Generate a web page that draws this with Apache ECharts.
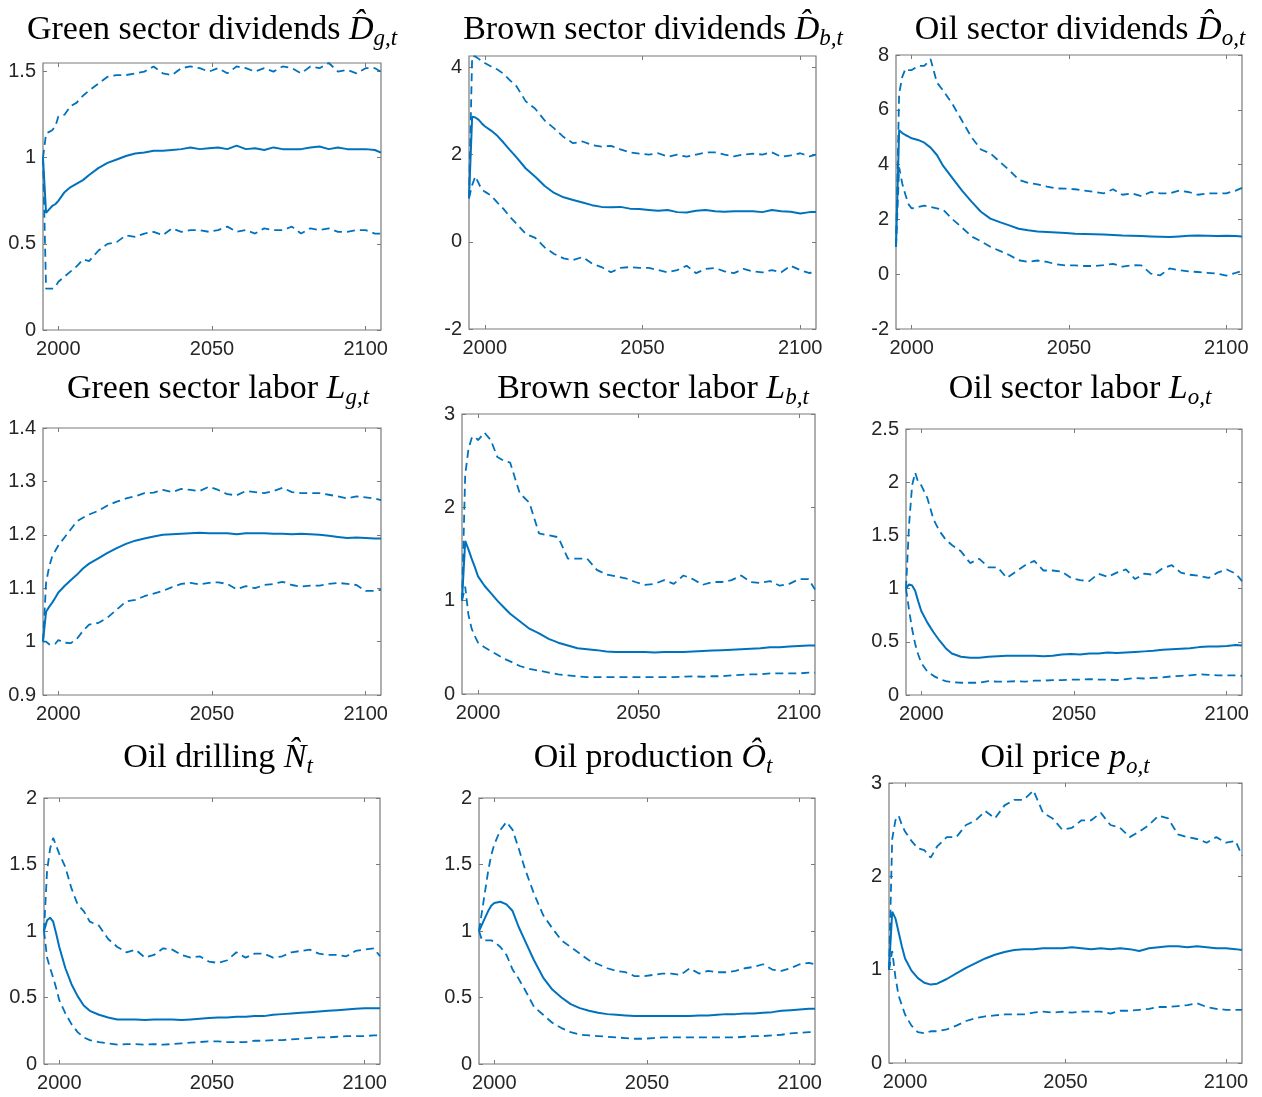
<!DOCTYPE html>
<html><head><meta charset="utf-8">
<script src="https://cdn.jsdelivr.net/npm/echarts@6/dist/echarts.min.js"></script>
<style>html,body{margin:0;padding:0;background:#fff}#c{width:1262px;height:1097px}</style>
</head><body><div id="c"></div>
<script>
// ---------- DATA ----------
const years = [1995,1996,1997,1998,1999,2000,2002,2004,2006,2008,2010,
  2013,2016,2019,2022,2025,2028,2031,2034,2037,2040,
  2043,2046,2049,2052,2055,2058,2061,2064,2067,2070,
  2073,2076,2079,2082,2085,2088,2091,2094,2097,2100,
  2103,2105];
const xTicks = [2000, 2050, 2100];

// Green sector dividends
const greenDivMean = [1.0,0.68,0.70,0.72,0.73,0.75, 0.80,0.83,0.85,0.87,0.90,
  0.94,0.97,0.99,1.01,1.025,1.03,1.04,1.04,1.045,1.05,
  1.06,1.05,1.055,1.06,1.05,1.07,1.05,1.055,1.045,1.06,
  1.05,1.05,1.05,1.06,1.065,1.05,1.06,1.05,1.05,1.05,
  1.045,1.03];
const greenDivUpper = [1.0,1.14,1.15,1.16,1.18,1.24, 1.25,1.30,1.32,1.36,1.39,
  1.43,1.47,1.48,1.48,1.49,1.50,1.53,1.49,1.48,1.52,
  1.53,1.52,1.50,1.52,1.49,1.53,1.52,1.50,1.52,1.50,
  1.53,1.52,1.49,1.53,1.52,1.55,1.50,1.51,1.49,1.52,
  1.52,1.50];
const greenDivLower = [1.0,0.24,0.24,0.24,0.25,0.28, 0.31,0.34,0.37,0.41,0.40,
  0.46,0.50,0.51,0.55,0.54,0.56,0.57,0.55,0.59,0.57,
  0.58,0.58,0.57,0.58,0.60,0.57,0.58,0.56,0.59,0.58,
  0.58,0.60,0.56,0.59,0.58,0.59,0.57,0.57,0.58,0.58,
  0.56,0.56];

// Brown sector dividends
const brownDivMean = [1.0,2.87,2.85,2.80,2.72,2.65, 2.55,2.43,2.27,2.10,1.94,
  1.68,1.49,1.28,1.12,1.02,0.96,0.90,0.84,0.80,0.79,
  0.80,0.76,0.75,0.73,0.71,0.73,0.68,0.67,0.71,0.73,
  0.70,0.69,0.70,0.70,0.70,0.68,0.73,0.70,0.69,0.65,
  0.68,0.68];
const brownDivUpper = [1.0,4.25,4.25,4.20,4.15,4.10, 4.02,3.95,3.85,3.70,3.57,
  3.22,3.05,2.78,2.60,2.40,2.26,2.30,2.22,2.18,2.20,
  2.12,2.05,2.02,2.00,2.03,1.95,2.00,1.95,2.00,2.05,
  2.05,2.00,1.96,2.00,2.02,2.00,2.05,1.95,1.98,2.03,
  1.96,2.00];
const brownDivLower = [1.0,1.30,1.50,1.35,1.20,1.15, 1.06,0.90,0.75,0.57,0.42,
  0.18,0.09,-0.13,-0.28,-0.38,-0.42,-0.35,-0.50,-0.58,-0.70,
  -0.60,-0.58,-0.60,-0.60,-0.65,-0.70,-0.65,-0.55,-0.72,-0.62,
  -0.60,-0.68,-0.72,-0.62,-0.68,-0.70,-0.65,-0.70,-0.55,-0.65,
  -0.72,-0.65];

// Oil sector dividends
const oilDivMean = [1.0,5.25,5.15,5.08,5.02,4.96, 4.90,4.80,4.62,4.35,3.95,
  3.50,3.05,2.65,2.28,2.03,1.90,1.78,1.66,1.60,1.56,
  1.54,1.52,1.50,1.48,1.47,1.46,1.45,1.43,1.41,1.40,
  1.39,1.38,1.37,1.36,1.38,1.40,1.41,1.40,1.39,1.40,
  1.39,1.38];
const oilDivUpper = [1.0,6.6,7.2,7.5,7.45,7.45, 7.6,7.6,7.85,7.0,6.7,
  6.2,5.6,5.0,4.55,4.41,4.1,3.8,3.45,3.33,3.28,
  3.2,3.13,3.12,3.1,3.05,3.0,2.95,3.1,2.9,2.95,
  2.85,3.0,2.95,2.95,3.05,3.0,2.9,2.95,2.95,2.95,
  3.05,3.15];
const oilDivLower = [1.0,3.9,3.3,2.9,2.55,2.4, 2.45,2.5,2.45,2.4,2.35,
  2.0,1.7,1.38,1.2,1.0,0.85,0.7,0.51,0.45,0.5,
  0.45,0.36,0.32,0.32,0.30,0.30,0.33,0.38,0.28,0.33,
  0.32,0.02,-0.04,0.21,0.15,0.10,0.08,0.05,0.02,-0.05,
  0.05,0.12];

// Green sector labor
const greenLabMean = [1.0,1.056,1.065,1.073,1.082,1.092, 1.104,1.115,1.125,1.137,1.146,
  1.156,1.166,1.175,1.183,1.189,1.193,1.197,1.200,1.201,1.202,
  1.203,1.204,1.203,1.203,1.203,1.201,1.203,1.203,1.203,1.202,
  1.202,1.201,1.202,1.201,1.200,1.198,1.196,1.194,1.195,1.194,
  1.193,1.193];
const greenLabUpper = [1.0,1.11,1.14,1.16,1.17,1.18, 1.195,1.21,1.225,1.232,1.238,
  1.245,1.255,1.262,1.268,1.272,1.278,1.279,1.284,1.280,1.286,
  1.284,1.282,1.290,1.284,1.276,1.274,1.282,1.280,1.278,1.282,
  1.288,1.280,1.278,1.278,1.278,1.275,1.272,1.268,1.272,1.270,
  1.268,1.265];
const greenLabLower = [1.0,1.0,0.995,0.994,0.996,1.003, 0.998,0.997,1.005,1.02,1.032,
  1.035,1.045,1.06,1.075,1.078,1.085,1.09,1.095,1.102,1.108,
  1.110,1.107,1.110,1.111,1.108,1.098,1.104,1.100,1.106,1.108,
  1.112,1.106,1.103,1.105,1.105,1.108,1.110,1.108,1.106,1.095,
  1.095,1.097];

// Brown sector labor
const brownLabMean = [1.0,1.64,1.55,1.45,1.36,1.26, 1.16,1.08,1.00,0.93,0.86,
  0.78,0.70,0.65,0.59,0.55,0.52,0.49,0.48,0.47,0.455,
  0.45,0.45,0.45,0.45,0.445,0.45,0.45,0.45,0.455,0.46,
  0.465,0.47,0.475,0.48,0.485,0.49,0.50,0.50,0.51,0.515,
  0.52,0.52];
const brownLabUpper = [1.0,2.35,2.62,2.74,2.76,2.72, 2.80,2.72,2.54,2.50,2.48,
  2.15,2.05,1.72,1.70,1.68,1.45,1.45,1.45,1.33,1.28,
  1.26,1.24,1.20,1.17,1.18,1.22,1.18,1.27,1.23,1.17,
  1.20,1.20,1.22,1.27,1.20,1.19,1.21,1.16,1.18,1.23,
  1.23,1.12];
const brownLabLower = [1.0,1.15,0.85,0.70,0.62,0.55, 0.50,0.46,0.42,0.38,0.35,
  0.30,0.27,0.25,0.23,0.21,0.20,0.19,0.18,0.18,0.18,
  0.18,0.18,0.18,0.18,0.18,0.18,0.18,0.185,0.19,0.185,
  0.19,0.19,0.20,0.205,0.21,0.21,0.22,0.22,0.22,0.22,
  0.23,0.23];

// Oil sector labor
const oilLabMean = [1.0,1.04,1.03,0.98,0.88,0.79, 0.68,0.59,0.51,0.44,0.39,
  0.36,0.35,0.35,0.36,0.365,0.37,0.37,0.37,0.37,0.365,
  0.37,0.38,0.385,0.38,0.39,0.39,0.40,0.395,0.40,0.405,
  0.41,0.415,0.425,0.43,0.435,0.44,0.45,0.455,0.455,0.46,
  0.47,0.465];
const oilLabUpper = [1.0,1.6,1.97,2.09,2.0,1.97, 1.85,1.65,1.54,1.46,1.41,
  1.35,1.24,1.28,1.20,1.20,1.10,1.16,1.22,1.26,1.17,
  1.17,1.16,1.10,1.08,1.07,1.14,1.11,1.15,1.18,1.09,
  1.14,1.13,1.19,1.22,1.15,1.13,1.12,1.10,1.15,1.18,
  1.14,1.07];
const oilLabLower = [1.0,0.8,0.62,0.48,0.38,0.30, 0.22,0.18,0.15,0.13,0.12,
  0.115,0.115,0.115,0.13,0.125,0.125,0.13,0.125,0.135,0.135,
  0.14,0.14,0.145,0.145,0.15,0.145,0.145,0.14,0.15,0.16,
  0.155,0.16,0.165,0.175,0.18,0.185,0.195,0.19,0.185,0.185,
  0.185,0.18];

// Oil drilling
const drillMean = [1.0,1.08,1.10,1.07,0.98,0.88, 0.72,0.60,0.51,0.44,0.40,
  0.37,0.35,0.335,0.335,0.335,0.33,0.335,0.335,0.335,0.33,
  0.335,0.34,0.345,0.35,0.35,0.355,0.355,0.36,0.36,0.37,
  0.375,0.38,0.385,0.39,0.395,0.40,0.405,0.41,0.415,0.42,
  0.42,0.42];
const drillUpper = [1.0,1.45,1.62,1.70,1.64,1.58, 1.48,1.32,1.20,1.15,1.07,
  1.04,0.94,0.88,0.84,0.86,0.80,0.82,0.87,0.86,0.82,
  0.80,0.81,0.77,0.76,0.78,0.84,0.80,0.83,0.83,0.80,
  0.81,0.84,0.85,0.86,0.83,0.82,0.82,0.81,0.85,0.86,
  0.87,0.81];
const drillLower = [1.0,0.80,0.72,0.65,0.57,0.48, 0.38,0.30,0.24,0.20,0.18,
  0.165,0.155,0.145,0.15,0.15,0.145,0.15,0.145,0.15,0.155,
  0.16,0.165,0.17,0.17,0.165,0.165,0.165,0.175,0.175,0.18,
  0.18,0.185,0.19,0.195,0.20,0.20,0.205,0.21,0.21,0.21,
  0.215,0.215];

// Oil production
const prodMean = [1.0,1.05,1.10,1.15,1.19,1.21, 1.22,1.20,1.15,1.03,0.93,
  0.78,0.65,0.56,0.50,0.45,0.42,0.40,0.385,0.375,0.37,
  0.365,0.36,0.36,0.36,0.36,0.36,0.36,0.36,0.365,0.365,
  0.37,0.375,0.375,0.38,0.38,0.385,0.39,0.40,0.405,0.41,
  0.415,0.415];
const prodUpper = [1.0,1.15,1.30,1.45,1.57,1.65, 1.76,1.82,1.76,1.62,1.47,
  1.28,1.12,1.02,0.93,0.88,0.83,0.78,0.75,0.72,0.70,
  0.69,0.66,0.66,0.67,0.68,0.68,0.67,0.72,0.68,0.70,
  0.69,0.69,0.70,0.72,0.73,0.75,0.71,0.70,0.72,0.75,
  0.76,0.75];
const prodLower = [1.0,0.93,0.93,0.93,0.93,0.92, 0.88,0.82,0.71,0.64,0.56,
  0.43,0.37,0.31,0.27,0.24,0.22,0.215,0.21,0.205,0.20,
  0.195,0.19,0.19,0.195,0.20,0.20,0.20,0.20,0.20,0.20,
  0.20,0.20,0.20,0.205,0.21,0.21,0.215,0.22,0.23,0.235,
  0.24,0.24];

// Oil price
const priceMean = [1.0,1.62,1.55,1.40,1.25,1.12, 0.99,0.91,0.86,0.84,0.85,
  0.90,0.96,1.02,1.07,1.12,1.16,1.19,1.21,1.22,1.22,
  1.23,1.23,1.23,1.24,1.23,1.22,1.23,1.22,1.23,1.22,
  1.20,1.23,1.24,1.25,1.25,1.24,1.25,1.24,1.23,1.23,
  1.22,1.21];
const priceUpper = [1.0,2.4,2.60,2.65,2.55,2.48, 2.38,2.30,2.28,2.20,2.32,
  2.42,2.42,2.55,2.60,2.70,2.62,2.76,2.82,2.82,2.92,
  2.68,2.62,2.50,2.52,2.60,2.60,2.68,2.55,2.52,2.42,
  2.48,2.55,2.65,2.62,2.45,2.42,2.40,2.36,2.42,2.36,
  2.38,2.22];
const priceLower = [1.0,1.20,0.92,0.72,0.62,0.52, 0.40,0.33,0.32,0.34,0.34,
  0.36,0.40,0.45,0.48,0.50,0.51,0.52,0.52,0.52,0.54,
  0.55,0.54,0.55,0.54,0.55,0.55,0.55,0.53,0.56,0.56,
  0.57,0.58,0.60,0.60,0.61,0.62,0.64,0.60,0.58,0.57,
  0.57,0.57];

// y-axis ticks
const yTicksGreenDiv = [0, 0.5, 1, 1.5];
const yTicksBrownDiv = [-2, 0, 2, 4];
const yTicksOilDiv = [-2, 0, 2, 4, 6, 8];
const yTicksGreenLab = [0.9, 1, 1.1, 1.2, 1.3, 1.4];
const yTicksBrownLab = [0, 1, 2, 3];
const yTicksOilLab = [0, 0.5, 1, 1.5, 2, 2.5];
const yTicksDrill = [0, 0.5, 1, 1.5, 2];
const yTicksProd = [0, 0.5, 1, 1.5, 2];
const yTicksPrice = [0, 1, 2, 3];

// ---------- PANELS ----------
const panels = [
  {title:'{a|Green sector dividends }{m|D\u0302}{s|g,t}', mean:greenDivMean, up:greenDivUpper, lo:greenDivLower, yt:yTicksGreenDiv, ymin:0, ymax:1.55,
   g:{left:43, top:63, width:338, height:267}, tx:207, ty:5},
  {title:'{a|Brown sector dividends }{m|D\u0302}{s|b,t}', mean:brownDivMean, up:brownDivUpper, lo:brownDivLower, yt:yTicksBrownDiv, ymin:-2, ymax:4.26,
   g:{left:469, top:56, width:347, height:273}, tx:648, ty:5},
  {title:'{a|Oil sector dividends }{m|D\u0302}{s|o,t}', mean:oilDivMean, up:oilDivUpper, lo:oilDivLower, yt:yTicksOilDiv, ymin:-2, ymax:8,
   g:{left:896, top:55, width:346, height:274}, tx:1075, ty:5},
  {title:'{a|Green sector labor }{m|L}{s|g,t}', mean:greenLabMean, up:greenLabUpper, lo:greenLabLower, yt:yTicksGreenLab, ymin:0.9, ymax:1.4,
   g:{left:43, top:428, width:338, height:267}, tx:213, ty:364},
  {title:'{a|Brown sector labor }{m|L}{s|b,t}', mean:brownLabMean, up:brownLabUpper, lo:brownLabLower, yt:yTicksBrownLab, ymin:0, ymax:3,
   g:{left:462, top:414, width:353, height:280}, tx:648, ty:364},
  {title:'{a|Oil sector labor }{m|L}{s|o,t}', mean:oilLabMean, up:oilLabUpper, lo:oilLabLower, yt:yTicksOilLab, ymin:0, ymax:2.5,
   g:{left:906, top:429, width:336, height:266}, tx:1075, ty:364},
  {title:'{a|Oil drilling }{m|N\u0302}{s|t}', mean:drillMean, up:drillUpper, lo:drillLower, yt:yTicksDrill, ymin:0, ymax:2,
   g:{left:44, top:798, width:336, height:266}, tx:213, ty:733},
  {title:'{a|Oil production }{m|O\u0302}{s|t}', mean:prodMean, up:prodUpper, lo:prodLower, yt:yTicksProd, ymin:0, ymax:2,
   g:{left:479, top:798, width:336, height:266}, tx:648, ty:733},
  {title:'{a|Oil price }{m|p}{s|o,t}', mean:priceMean, up:priceUpper, lo:priceLower, yt:yTicksPrice, ymin:0, ymax:3,
   g:{left:889, top:783, width:353, height:280}, tx:1060, ty:733}
];

const LINE = '#0072BD';
const AX = '#7a7a7a';
const LBL = '#262626';
const serif = 'Liberation Serif';
const sans = 'Liberation Sans';
const plain = v => String(v);

const option = {animation:false, backgroundColor:'#fff', title:[], grid:[], xAxis:[], yAxis:[], series:[]};

panels.forEach((p, i) => {
  option.title.push({
    text: p.title, left: p.tx, top: p.ty, textAlign: 'center',
    textStyle: {fontWeight: 'normal', rich: {
      a: {fontFamily: serif, fontWeight: 'normal', fontSize: 34, color: '#000', lineHeight: 40},
      m: {fontFamily: serif, fontWeight: 'normal', fontStyle: 'italic', fontSize: 34, color: '#000', lineHeight: 40},
      s: {fontFamily: serif, fontWeight: 'normal', fontStyle: 'italic', fontSize: 23, color: '#000', lineHeight: 24, verticalAlign: 'bottom'}
    }}
  });
  option.grid.push(Object.assign({show: true, borderColor: AX, borderWidth: 1.2, backgroundColor: '#fff', outerBoundsMode: 'none', containLabel: false}, p.g));
  const tickStyle = {show: true, inside: true, length: 4, lineStyle: {color: AX, width: 1}};
  option.xAxis.push({type: 'value', gridIndex: i, min: 1995, max: 2105, position: 'bottom',
    axisLine: {show: false, onZero: false}, splitLine: {show: false},
    axisTick: Object.assign({customValues: xTicks}, tickStyle),
    axisLabel: {customValues: xTicks, formatter: plain, color: LBL, fontFamily: sans, fontSize: 20, margin: 9}});
  option.xAxis.push({type: 'value', gridIndex: i, min: 1995, max: 2105, position: 'top',
    axisLine: {show: false, onZero: false}, splitLine: {show: false},
    axisTick: Object.assign({customValues: xTicks}, tickStyle),
    axisLabel: {show: false}});
  option.yAxis.push({type: 'value', gridIndex: i, min: p.ymin, max: p.ymax, position: 'left',
    axisLine: {show: false, onZero: false}, splitLine: {show: false},
    axisTick: Object.assign({customValues: p.yt}, tickStyle),
    axisLabel: {customValues: p.yt, formatter: plain, color: LBL, fontFamily: sans, fontSize: 20, margin: 7}});
  option.yAxis.push({type: 'value', gridIndex: i, min: p.ymin, max: p.ymax, position: 'right',
    axisLine: {show: false, onZero: false}, splitLine: {show: false},
    axisTick: Object.assign({customValues: p.yt}, tickStyle),
    axisLabel: {show: false}});
  const mk = (arr, dashed) => ({
    type: 'line', xAxisIndex: 2*i, yAxisIndex: 2*i, symbol: 'none', silent: true,
    data: years.map((y, k) => [y, arr[k]]),
    lineStyle: {color: LINE, width: dashed ? 1.8 : 2, type: dashed ? [8, 5] : 'solid'}
  });
  option.series.push(mk(p.mean, false), mk(p.up, true), mk(p.lo, true));
});

const chart = echarts.init(document.getElementById('c'), null, {renderer: 'canvas'});
chart.setOption(option);
</script>
</body></html>
